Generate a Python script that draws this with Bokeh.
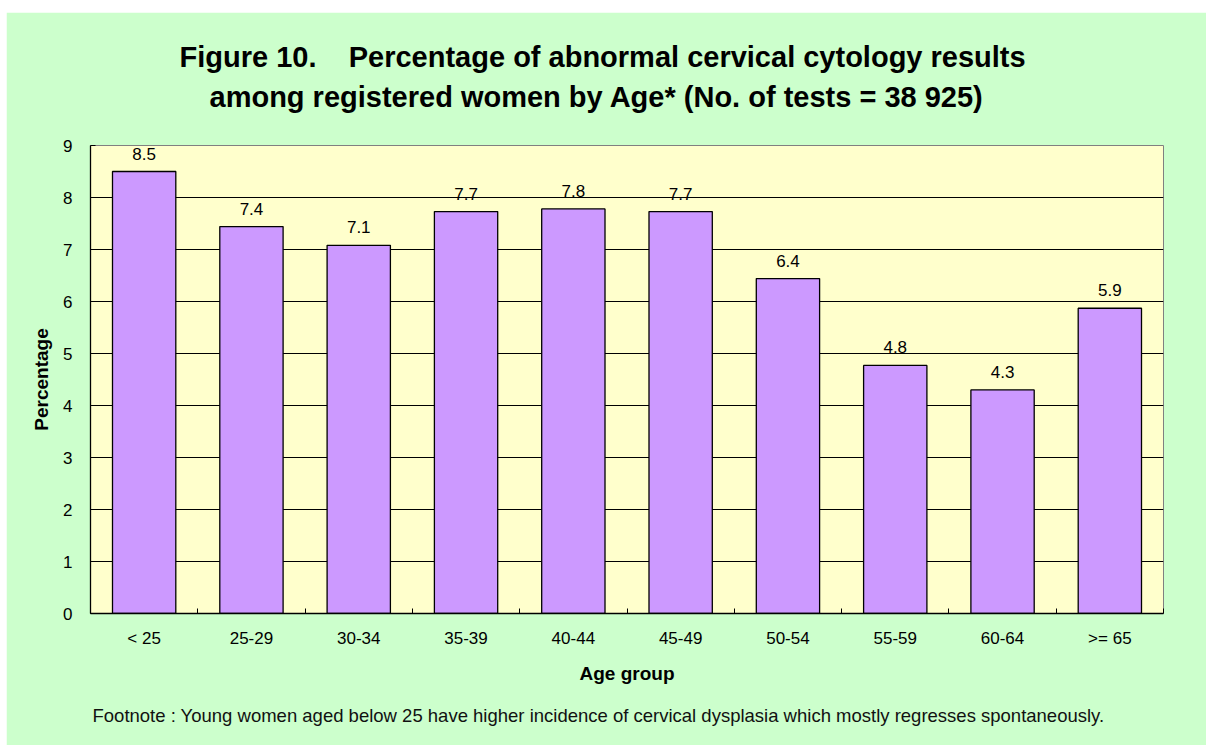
from bokeh.plotting import figure
from bokeh.models import Range1d, FixedTicker, ColumnDataSource, LabelSet, Title, Spacer
from bokeh.layouts import column, row
from bokeh.core.properties import value
from bokeh.embed import file_html
from bokeh.resources import INLINE

# ---- data ----
age_groups = ["< 25", "25-29", "30-34", "35-39", "40-44", "45-49", "50-54", "55-59", "60-64", ">= 65"]
percentages = [8.50, 7.44, 7.08, 7.73, 7.78, 7.73, 6.44, 4.77, 4.30, 5.87]
y_ticks = [0, 1, 2, 3, 4, 5, 6, 7, 8, 9]
title_lines = ["Figure 10.\u00a0\u00a0\u00a0\u00a0Percentage of abnormal cervical cytology results",
               "among registered women by Age* (No. of tests = 38 925)"]
footnote = "Footnote : Young women aged below 25 have higher incidence of cervical dysplasia which mostly regresses spontaneously."

FONT = "Liberation Sans"
GREEN = "#CCFFCC"
YELLOW = "#FFFFCC"
PURPLE = "#CC99FF"

n = len(age_groups)
positions = [i + 0.5 for i in range(n)]
bounds = [float(i) for i in range(n + 1)]
value_text = [f"{v:.1f}" for v in percentages]
src = ColumnDataSource(dict(x=positions, top=percentages, label=value_text))

p = figure(width=1200, height=733,
           x_range=Range1d(0, n), y_range=Range1d(y_ticks[0], y_ticks[-1]),
           output_backend="svg", toolbar_location=None,
           min_border_left=84, min_border_right=43, min_border_top=133, min_border_bottom=132)

p.background_fill_color = YELLOW
p.border_fill_color = GREEN
p.outline_line_color = "#808080"
p.outline_line_width = 1

# grid
p.xgrid.visible = False
p.ygrid.ticker = FixedTicker(ticks=y_ticks[1:-1])
p.ygrid.grid_line_color = "black"
p.ygrid.grid_line_width = 1

# bars
p.vbar(x="x", top="top", bottom=0, width=0.59, source=src,
       fill_color=PURPLE, line_color="black", line_width=1.3)

# value labels
p.add_layout(LabelSet(x="x", y="top", text="label", source=src, y_offset=12,
                      text_align="center", text_baseline="alphabetic",
                      text_font=value(FONT), text_font_size=value("17px"), text_color="black"))

# x axis
xa = p.xaxis[0]
xa.ticker = FixedTicker(ticks=positions, minor_ticks=bounds)
xa.major_label_overrides = {pos: name for pos, name in zip(positions, age_groups)}
xa.major_tick_in = 0
xa.major_tick_out = 0
xa.minor_tick_in = 5
xa.minor_tick_out = 0
xa.minor_tick_line_color = "black"
xa.axis_line_color = "black"
xa.axis_line_width = 1.3
xa.major_label_standoff = 15
xa.major_label_text_font = FONT
xa.major_label_text_font_size = "17px"
xa.major_label_text_color = "black"
xa.axis_label = "Age group"
xa.axis_label_text_font = FONT
xa.axis_label_text_font_style = "bold"
xa.axis_label_text_font_size = "19px"
xa.axis_label_standoff = 12
xa.axis_label_text_color = "black"

# y axis
ya = p.yaxis[0]
ya.ticker = FixedTicker(ticks=y_ticks)
ya.major_tick_in = 5
ya.major_tick_out = 0
ya.major_tick_line_color = "black"
ya.minor_tick_line_color = None
ya.axis_line_color = "black"
ya.axis_line_width = 1.3
ya.major_label_standoff = 18
ya.major_label_text_font = FONT
ya.major_label_text_font_size = "17px"
ya.major_label_text_color = "black"
ya.axis_label = "Percentage"
ya.axis_label_text_font = FONT
ya.axis_label_text_font_style = "bold"
ya.axis_label_text_font_size = "19px"
ya.axis_label_standoff = 8
ya.axis_label_text_color = "black"

# titles: items in p.above stack outward from the frame; p.title is outermost
p.add_layout(Title(text=" ", text_font_size="1px", standoff=27), "above")
p.add_layout(Title(text=title_lines[1], align="left", offset=119, text_font=FONT,
                   text_font_style="bold", text_font_size="29px", text_color="black",
                   standoff=6), "above")
p.title.text = title_lines[0]
p.title.align = "left"
p.title.offset = 89
p.title.text_font = FONT
p.title.text_font_style = "bold"
p.title.text_font_size = "29px"
p.title.text_color = "black"
p.title.standoff = 6

# footnote
p.add_layout(Title(text=footnote, align="left", offset=2, text_font=FONT,
                   text_font_style="normal", text_font_size="18.5px", text_color="#111111",
                   standoff=32), "below")

layout = row(Spacer(width=6), column(Spacer(height=12), p))
open("out.html", "w").write(file_html(layout, INLINE))
